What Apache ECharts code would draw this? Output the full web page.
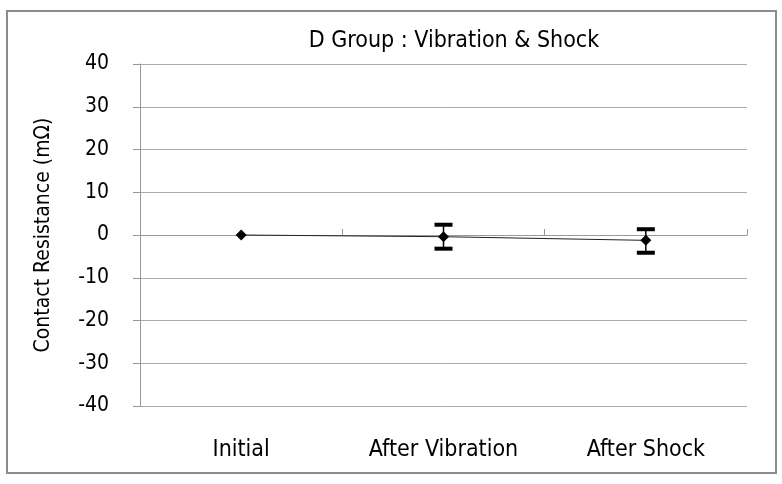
<!DOCTYPE html>
<html>
<head>
<meta charset="utf-8">
<script src="https://cdn.jsdelivr.net/npm/echarts@6/dist/echarts.min.js"></script>
<style>html,body{margin:0;padding:0;background:#fff;}#c{width:782px;height:484px;}</style>
</head>
<body>
<div id="c"></div>
<script>
const categories = ['Initial', 'After Vibration', 'After Shock'];
const meanValues = [0, -0.4, -1.25];
const errUpper = [0, 2.4, 1.35];
const errLower = [0, -3.2, -4.15];
const hasError = [false, true, true];
const yTicks = [-40, -30, -20, -10, 0, 10, 20, 30, 40];

const FONT = '"DejaVu Sans Condensed", "DejaVu Sans"';
const chart = echarts.init(document.getElementById('c'));

const errData = categories.map((c, i) => [i, errLower[i], errUpper[i], hasError[i] ? 1 : 0]);

chart.setOption({
  animation: false,
  backgroundColor: '#fff',
  title: {
    text: 'D Group : Vibration & Shock',
    left: 449, top: 25, textAlign: 'center',
    textStyle: { fontFamily: FONT, fontSize: 23, fontWeight: 'normal', color: '#000' }
  },
  graphic: [{
    type: 'rect', shape: { x: 7, y: 11, width: 769, height: 462 },
    style: { fill: 'none', stroke: '#8c8c8c', lineWidth: 2 }, silent: true
  }],
  grid: { left: 140, right: 35, top: 64, bottom: 78 },
  xAxis: [{
    type: 'category', data: categories, boundaryGap: true, position: 'bottom',
    axisLine: { show: false, onZero: false },
    axisTick: { show: false },
    axisLabel: { margin: 33, fontFamily: FONT, fontSize: 23, color: '#000' },
    splitLine: { show: false }
  }, {
    type: 'category', data: categories, boundaryGap: true, position: 'top',
    axisLine: { show: true, onZero: true, lineStyle: { color: '#999', width: 1 } },
    axisTick: { show: true, inside: false, length: 6, lineStyle: { color: '#999' } },
    axisLabel: { show: false },
    splitLine: { show: false }
  }],
  yAxis: {
    type: 'value', min: yTicks[0], max: yTicks[yTicks.length - 1], interval: 10,
    name: 'Contact Resistance (mΩ)', nameLocation: 'middle', nameGap: 86,
    nameTextStyle: { fontFamily: FONT, fontSize: 21, color: '#000' },
    axisLine: { show: true, lineStyle: { color: '#999', width: 1 } },
    axisTick: { show: true, length: 7, lineStyle: { color: '#999' } },
    axisLabel: { margin: 31, fontFamily: FONT, fontSize: 21, color: '#000' },
    splitLine: { show: true, lineStyle: { color: '#aaa', width: 1 } }
  },
  series: [{
    type: 'line', data: meanValues, xAxisIndex: 0,
    symbol: 'diamond', symbolSize: 11,
    lineStyle: { color: '#222', width: 1 },
    itemStyle: { color: '#000' }, z: 3
  }, {
    type: 'custom', xAxisIndex: 0, data: errData, z: 4,
    renderItem: function (params, api) {
      if (!api.value(3)) return;
      const x = api.value(0);
      const lo = api.coord([x, api.value(1)]);
      const hi = api.coord([x, api.value(2)]);
      const w = 9;
      return {
        type: 'group',
        children: [
          { type: 'line', shape: { x1: lo[0], y1: lo[1], x2: hi[0], y2: hi[1] }, style: { stroke: '#000', lineWidth: 1.5 } },
          { type: 'rect', shape: { x: hi[0] - w, y: hi[1] - 2, width: 2 * w, height: 4 }, style: { fill: '#000' } },
          { type: 'rect', shape: { x: lo[0] - w, y: lo[1] - 2, width: 2 * w, height: 4 }, style: { fill: '#000' } }
        ]
      };
    }
  }]
});
</script>
</body>
</html>
